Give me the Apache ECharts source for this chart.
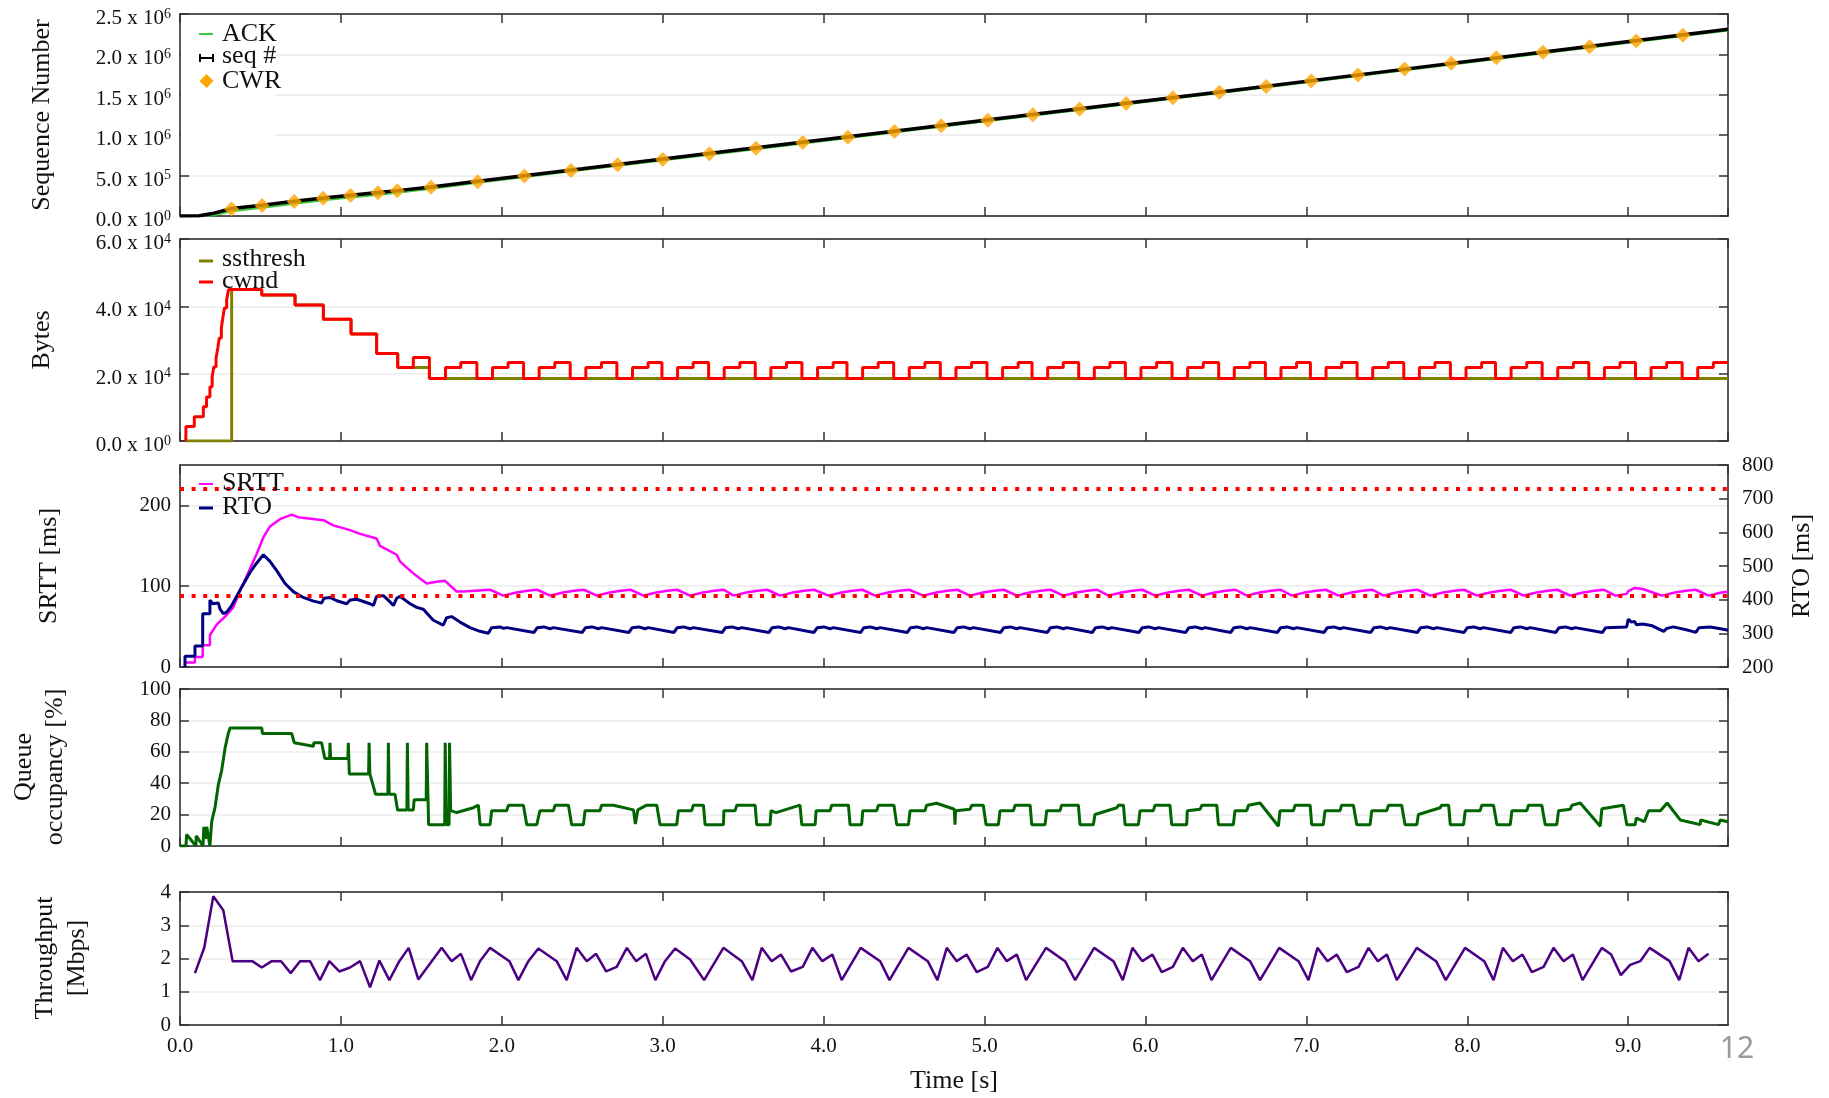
<!DOCTYPE html>
<html><head><meta charset="utf-8">
<script src="https://cdn.jsdelivr.net/npm/echarts@6/dist/echarts.min.js"></script>
<style>html,body{margin:0;padding:0;background:#fff}#c{width:1829px;height:1098px}</style>
</head><body><div id="c"></div>
<script>
// ---------------- DATA ----------------
const timeRange = [0, 9.62];

// Panel 1: sequence numbers
const seqT = [0, 0.12, 0.2, 0.32, 0.51, 0.71, 0.89, 1.06, 1.23, 1.35, 1.56, 1.85, 2.5, 3.5, 4.5, 5.5, 6.5, 7.5, 8.5, 9.62];
const seqV = [0, 2000, 30000, 92000, 132000, 182000, 224000, 257000, 290000, 314000, 360000, 430000, 585000, 825000, 1065000, 1305000, 1545000, 1790000, 2035000, 2310000];
const ackT = [0.1, 0.2, 0.32, 0.51, 0.71, 0.89, 1.06, 1.23, 1.35, 1.56, 1.85, 2.5, 3.5, 4.5, 5.5, 6.5, 7.5, 8.5, 9.62];
const ackV = [0, 6000, 58000, 102000, 152000, 194000, 229000, 264000, 289000, 337000, 410000, 568000, 809000, 1050000, 1290000, 1531000, 1776000, 2021000, 2296000];
const cwrT = [0.32, 0.51, 0.71, 0.89, 1.06, 1.23, 1.35, 1.56, 1.85, 2.14, 2.43, 2.72, 3.00, 3.29, 3.58, 3.87, 4.15, 4.44, 4.73, 5.02, 5.30, 5.59, 5.88, 6.17, 6.46, 6.75, 7.03, 7.32, 7.61, 7.90, 8.18, 8.47, 8.76, 9.05, 9.34];
const cwrV = [88000, 130000, 180000, 221000, 254000, 287000, 311000, 357000, 425000, 494000, 563000, 633000, 700000, 770000, 839000, 909000, 976000, 1046000, 1116000, 1186000, 1253000, 1323000, 1393000, 1463000, 1532000, 1602000, 1671000, 1745000, 1819000, 1890000, 1959000, 2026000, 2095000, 2166000, 2236000];

// Panel 2: window sizes [time, bytes] (value holds until next time)
const ssthreshSteps = [[0.036,0],[0.321,45000],[0.508,43400],[0.715,40400],[0.891,36200],[1.063,31800],[1.222,26000],[1.353,21800],[1.55,18600],[9.62,18600]];
const cwndSteps = [[0.036,0],[0.037,4300],[0.089,7200],[0.145,10200],[0.165,13100],[0.186,16100],[0.2,19100],[0.21,22000],[0.224,24600],[0.235,27600],[0.244,30600],[0.257,33600],[0.266,36500],[0.276,39500],[0.29,42000],[0.302,45000],[0.508,43400],[0.715,40400],[0.891,36200],[1.063,31800],[1.222,26000],[1.353,21800],[1.45,24800],[1.55,18600],[1.65,21800],[1.745,23300],
[1.845,18600],[1.942,21800],[2.039,23300],[2.135,18600],[2.232,21800],[2.329,23300],[2.425,18600],[2.522,21800],[2.619,23300],
[2.715,18600],[2.812,21800],[2.909,23300],[2.995,18600],[3.092,21800],[3.189,23300],[3.285,18600],[3.382,21800],[3.479,23300],
[3.575,18600],[3.672,21800],[3.769,23300],[3.865,18600],[3.962,21800],[4.059,23300],[4.145,18600],[4.242,21800],[4.339,23300],
[4.435,18600],[4.532,21800],[4.629,23300],[4.725,18600],[4.822,21800],[4.919,23300],[5.015,18600],[5.112,21800],[5.209,23300],
[5.295,18600],[5.392,21800],[5.489,23300],[5.585,18600],[5.682,21800],[5.779,23300],[5.875,18600],[5.972,21800],[6.069,23300],
[6.165,18600],[6.262,21800],[6.359,23300],[6.455,18600],[6.552,21800],[6.649,23300],[6.745,18600],[6.842,21800],[6.939,23300],
[7.025,18600],[7.122,21800],[7.219,23300],[7.315,18600],[7.412,21800],[7.509,23300],[7.605,18600],[7.702,21800],[7.799,23300],
[7.895,18600],[7.992,21800],[8.089,23300],[8.175,18600],[8.272,21800],[8.369,23300],[8.465,18600],[8.562,21800],[8.659,23300],
[8.755,18600],[8.852,21800],[8.949,23300],[9.045,18600],[9.142,21800],[9.239,23300],[9.335,18600],[9.432,21800],[9.529,23300],[9.62,23300]];

// Panel 3: SRTT [ms] (left axis), RTO [ms] (right axis), reference levels
const srttPts = [[0.03,5.5],[0.093,5.5],[0.093,12.3],[0.141,12.3],[0.141,26.9],[0.186,26.9],[0.186,39.6],[0.228,52.4],[0.28,62.4],[0.331,73.8],[0.383,98.8],[0.435,121.6],[0.476,139.8],[0.518,160.3],[0.559,174],[0.621,183],[0.694,188.5],[0.735,185.4],[0.891,181.7],[0.953,175.3],[1.057,169.4],[1.119,164.8],[1.222,159],[1.243,149.8],[1.347,138.9],[1.367,130.7],[1.409,123],[1.471,112.5],[1.533,103.4],[1.595,105.6],[1.647,106.6],[1.719,93.4],[1.761,93.4],[1.927,95.6],
[2.01,88.3],[2.09,92.2],[2.16,94.5],[2.22,95.6],[2.30,88.3],[2.38,92.2],[2.45,94.5],[2.51,95.6],[2.59,88.3],[2.67,92.2],[2.74,94.5],[2.80,95.6],
[2.88,88.3],[2.96,92.2],[3.03,94.5],[3.09,95.6],[3.17,88.3],[3.25,92.2],[3.32,94.5],[3.38,95.6],[3.44,88.3],[3.52,92.2],[3.59,94.5],[3.65,95.6],
[3.73,88.3],[3.81,92.2],[3.88,94.5],[3.94,95.6],[4.03,88.3],[4.11,92.2],[4.18,94.5],[4.24,95.6],[4.32,88.3],[4.40,92.2],[4.47,94.5],[4.53,95.6],
[4.62,88.3],[4.70,92.2],[4.77,94.5],[4.83,95.6],[4.91,88.3],[4.99,92.2],[5.06,94.5],[5.12,95.6],[5.20,88.3],[5.28,92.2],[5.35,94.5],[5.41,95.6],
[5.49,88.3],[5.57,92.2],[5.64,94.5],[5.70,95.6],[5.77,88.3],[5.85,92.2],[5.92,94.5],[5.98,95.6],[6.06,88.3],[6.14,92.2],[6.21,94.5],[6.27,95.6],
[6.35,88.3],[6.43,92.2],[6.50,94.5],[6.56,95.6],[6.63,88.3],[6.71,92.2],[6.78,94.5],[6.84,95.6],[6.91,88.3],[6.99,92.2],[7.06,94.5],[7.12,95.6],
[7.20,88.3],[7.28,92.2],[7.35,94.5],[7.41,95.6],[7.48,88.3],[7.56,92.2],[7.63,94.5],[7.69,95.6],[7.77,88.3],[7.85,92.2],[7.92,94.5],[7.98,95.6],
[8.06,88.3],[8.14,92.2],[8.21,94.5],[8.27,95.6],[8.35,88.3],[8.43,92.2],[8.50,94.5],[8.56,95.6],[8.64,88.3],[8.72,92.2],[8.79,94.5],[8.85,95.6],
[8.92,88.3],[8.99,90.5],[9.00,94.0],[9.04,97.9],[9.09,96.5],[9.21,88.3],[9.29,92.2],[9.36,94.5],[9.42,95.6],[9.50,88.3],[9.58,92.2],[9.62,93.0]];
const rtoPts = [[0.031,200],[0.031,231.7],[0.093,231.7],[0.093,262.3],[0.141,262.3],[0.141,358.5],[0.186,358.5],[0.186,398.9],[0.203,388],[0.238,390.2],[0.249,371.6],[0.269,358.5],[0.29,362.8],[0.321,382.5],[0.352,409.8],[0.383,437.2],[0.435,480.9],[0.476,508.2],[0.518,533.3],[0.559,513.7],[0.601,486.3],[0.653,448.1],[0.704,424],[0.766,406.6],[0.829,395.6],[0.88,390.2],[0.895,404.4],[0.932,406.6],[0.974,396.7],[1.036,388],[1.057,398.9],[1.098,401.1],[1.181,388],[1.202,382.5],[1.222,409.8],[1.264,412],[1.305,393.4],[1.326,382.5],[1.347,404.4],[1.367,409.8],[1.43,388],[1.471,377],[1.512,371.6],[1.574,338.8],[1.636,324.6],[1.657,346.4],[1.688,349.7],[1.74,333.3],[1.802,316.9],[1.864,306],[1.916,300.5],
[1.937,316.9],[1.989,319.1],[2.01,314.8],[2.03,316.9],
[2.20,302.7],[2.22,316.9],[2.26,319.1],[2.30,313.7],[2.32,316.9],[2.50,302.7],[2.52,316.9],[2.56,319.1],[2.60,313.7],[2.62,316.9],
[2.79,302.7],[2.81,316.9],[2.85,319.1],[2.89,313.7],[2.91,316.9],[3.07,302.7],[3.09,316.9],[3.13,319.1],[3.17,313.7],[3.19,316.9],
[3.37,302.7],[3.39,316.9],[3.43,319.1],[3.47,313.7],[3.49,316.9],[3.66,302.7],[3.68,316.9],[3.72,319.1],[3.76,313.7],[3.78,316.9],
[3.94,302.7],[3.96,316.9],[4.00,319.1],[4.04,313.7],[4.06,316.9],[4.23,302.7],[4.25,316.9],[4.29,319.1],[4.33,313.7],[4.35,316.9],
[4.52,302.7],[4.54,316.9],[4.58,319.1],[4.62,313.7],[4.64,316.9],[4.81,302.7],[4.83,316.9],[4.87,319.1],[4.91,313.7],[4.93,316.9],
[5.10,302.7],[5.12,316.9],[5.16,319.1],[5.20,313.7],[5.22,316.9],[5.39,302.7],[5.41,316.9],[5.45,319.1],[5.49,313.7],[5.51,316.9],
[5.67,302.7],[5.69,316.9],[5.73,319.1],[5.77,313.7],[5.79,316.9],[5.96,302.7],[5.98,316.9],[6.02,319.1],[6.06,313.7],[6.08,316.9],
[6.25,302.7],[6.27,316.9],[6.31,319.1],[6.35,313.7],[6.37,316.9],[6.53,302.7],[6.55,316.9],[6.59,319.1],[6.63,313.7],[6.65,316.9],
[6.82,302.7],[6.84,316.9],[6.88,319.1],[6.92,313.7],[6.94,316.9],[7.11,302.7],[7.13,316.9],[7.17,319.1],[7.21,313.7],[7.23,316.9],
[7.40,302.7],[7.42,316.9],[7.46,319.1],[7.50,313.7],[7.52,316.9],[7.69,302.7],[7.71,316.9],[7.75,319.1],[7.79,313.7],[7.81,316.9],
[7.98,302.7],[8.00,316.9],[8.04,319.1],[8.08,313.7],[8.10,316.9],[8.27,302.7],[8.29,316.9],[8.33,319.1],[8.37,313.7],[8.39,316.9],
[8.55,302.7],[8.57,316.9],[8.61,319.1],[8.65,313.7],[8.67,316.9],
[8.84,302.7],[8.86,316.9],[8.99,319.1],[9.0,342],[9.02,333.3],[9.04,335.5],[9.05,325.7],[9.09,327.9],[9.15,322.4],[9.22,306],[9.24,314.8],[9.28,319.1],[9.38,308.2],[9.42,302.7],[9.44,316.9],[9.51,319.1],[9.6,311.5],[9.62,309.3]];
const srttRefLevels = [220.9, 88.3];

// Panel 4: queue occupancy [%]
const queuePts = [[0,0],[0.037,0],[0.041,7.3],[0.099,0],[0.101,6.5],[0.143,0],[0.148,12.2],[0.158,4.5],[0.166,12.2],[0.186,0],[0.197,15.5],[0.218,24.8],[0.238,38.9],[0.259,48.2],[0.28,62.3],[0.3,71.7],[0.311,75.2],[0.508,75.2],[0.512,71.7],[0.694,71.7],[0.71,65.8],[0.829,63.5],[0.832,65.8],[0.88,65.8],[0.9,55.7],[0.93,55.7],[0.932,65.8],[0.936,55.7],[1.043,55.7],[1.046,65.8],[1.052,45.9],[1.172,45.9],[1.175,65.8],[1.18,45.9],[1.19,45.9],[1.215,33.0],[1.292,33.0],[1.295,65.8],[1.3,33.0],[1.336,33.0],[1.352,23.0],[1.41,23.0],[1.413,65.8],[1.418,23.0],[1.45,23.0],[1.455,29.5],[1.53,29.5],[1.533,65.8],[1.545,13.6],[1.645,13.6],[1.648,65.8],[1.655,13.6],[1.672,13.6],[1.675,65.8],[1.682,22.5],[1.72,21.3],[1.823,24.4],[1.854,26],
[1.865,13.6],[1.927,13.6],[1.937,22.5],[2.03,22.5],[2.041,26],[2.134,26],
[2.155,13.6],[2.217,13.6],[2.237,22.5],[2.32,22.5],[2.331,26],[2.414,26],
[2.434,13.6],[2.507,13.6],[2.517,22.5],[2.61,22.5],[2.62,26],[2.693,26],[2.818,23],[2.83,14],[2.845,23],[2.9,26],[2.963,26],
[2.983,13.6],[3.087,13.6],[3.097,22.5],[3.18,22.5],[3.19,26],[3.253,26],
[3.263,13.6],[3.377,13.6],[3.38,22.5],[3.45,22.5],[3.46,26],[3.574,26],
[3.584,13.6],[3.667,13.6],[3.673,22.5],[3.704,21.3],[3.853,26],
[3.864,13.6],[3.947,13.6],[3.953,22.5],[4.04,22.5],[4.05,26],[4.154,26],
[4.164,13.6],[4.236,13.6],[4.243,22.5],[4.33,22.5],[4.34,26],[4.437,26],
[4.454,13.6],[4.527,13.6],[4.537,22.5],[4.63,22.5],[4.64,26],[4.702,27.2],[4.812,23.4],[4.816,13.6],[4.82,22.5],[4.91,23.4],[4.92,26],[4.992,26],
[5.009,13.6],[5.086,13.6],[5.096,22.5],[5.179,22.5],[5.19,26],[5.283,26],
[5.293,13.6],[5.376,13.6],[5.386,22.5],[5.469,22.5],[5.479,26],[5.583,26],
[5.593,13.6],[5.676,13.6],[5.686,20.1],[5.822,24.4],[5.832,26],[5.863,26],
[5.873,13.6],[5.956,13.6],[5.966,22.5],[6.049,22.5],[6.059,26],[6.152,26],
[6.163,13.6],[6.256,13.6],[6.26,22.5],[6.34,23.4],[6.35,26],[6.443,26],
[6.453,13.6],[6.546,13.6],[6.556,22.5],[6.629,22.5],[6.64,26],[6.712,27.4],[6.826,12.6],
[6.836,22.5],[6.919,22.5],[6.93,26],[7.023,26],
[7.033,13.6],[7.105,13.6],[7.116,22.5],[7.209,22.5],[7.219,26],[7.292,26],
[7.313,13.6],[7.396,13.6],[7.406,22.5],[7.499,22.5],[7.51,26],[7.592,26],
[7.613,13.6],[7.686,13.6],[7.696,20.1],[7.832,24.4],[7.84,26],[7.884,26],
[7.894,13.6],[7.977,13.6],[7.987,22.5],[8.08,22.5],[8.09,26],[8.163,26],
[8.184,13.6],[8.267,13.6],[8.277,22.5],[8.37,22.5],[8.38,26],[8.463,26],
[8.484,13.6],[8.556,13.6],[8.567,22.5],[8.64,23.4],[8.65,26],[8.702,27.4],[8.826,12.6],
[8.836,23.7],[8.97,26],
[8.991,13.6],[9.043,13.6],[9.05,17.8],[9.1,15.5],[9.126,22.5],[9.2,22.5],[9.242,27.4],[9.323,16.6],[9.447,13.6],[9.45,16.6],[9.561,13.6],[9.571,16.6],[9.62,15.5]];

// Panel 5: throughput [Mbps]
const thrPts = [[0.093,1.56],[0.151,2.33],[0.207,3.87],[0.269,3.45],[0.327,1.92],[0.389,1.92],[0.449,1.92],[0.508,1.73],[0.570,1.92],[0.628,1.92],[0.688,1.56],[0.746,1.92],[0.808,1.92],[0.870,1.35],[0.928,1.92],[0.990,1.61],[1.057,1.73],[1.119,1.92],[1.181,1.13],[1.239,1.94],[1.301,1.35],[1.363,1.92],[1.421,2.32],[1.481,1.37],[1.626,2.32],[1.688,1.92],[1.746,2.14],[1.809,1.35],[1.864,1.92],[1.927,2.32],[2.047,1.92],[2.103,1.35],[2.165,1.92],[2.227,2.30],[2.341,1.92],[2.403,1.35],[2.465,2.32],[2.528,1.92],[2.586,2.14],[2.648,1.61],[2.714,1.75],[2.777,2.32],[2.834,1.92],[2.896,2.14],[2.954,1.35],[3.014,1.92],[3.077,2.30],[3.17,1.97],[3.257,1.35],[3.377,2.32],[3.491,1.92],[3.557,1.35],[3.615,2.32],[3.677,1.92],[3.735,2.12],[3.797,1.61],[3.870,1.75],[3.930,2.32],[3.992,1.92],[4.054,2.12],[4.112,1.35],[4.230,2.32],[4.351,1.92],[4.409,1.35],[4.527,2.32],[4.647,1.92],[4.707,1.35],[4.765,2.32],[4.827,1.92],[4.889,2.12],[4.951,1.59],[5.020,1.75],[5.080,2.32],[5.138,1.92],[5.200,2.12],[5.258,1.35],[5.382,2.32],[5.500,1.92],[5.563,1.35],[5.681,2.32],[5.801,1.92],[5.859,1.35],[5.919,2.32],[5.981,1.92],[6.043,2.12],[6.101,1.59],[6.170,1.75],[6.232,2.32],[6.294,1.92],[6.350,2.12],[6.41,1.35],[6.530,2.32],[6.650,1.92],[6.712,1.35],[6.831,2.32],[6.951,1.92],[7.013,1.35],[7.069,2.32],[7.131,1.92],[7.189,2.12],[7.251,1.59],[7.324,1.75],[7.386,2.32],[7.444,1.92],[7.500,2.12],[7.562,1.35],[7.686,2.32],[7.806,1.92],[7.866,1.35],[7.986,2.32],[8.105,1.92],[8.163,1.35],[8.221,2.32],[8.283,1.92],[8.343,2.12],[8.401,1.59],[8.474,1.75],[8.536,2.32],[8.598,1.92],[8.656,2.12],[8.716,1.35],[8.836,2.32],[8.894,2.12],[8.954,1.50],[9.012,1.81],[9.075,1.92],[9.133,2.32],[9.257,1.92],[9.317,1.35],[9.375,2.32],[9.437,1.92],[9.499,2.14]];

// Axis scales (value ranges / tick steps)
const yScales = [
  {min:0, max:2500000, interval:500000},
  {min:0, max:60000, interval:20000},
  {min:0, max:250, interval:100},
  {min:0, max:100, interval:20},
  {min:0, max:4, interval:1}
];
const rtoScale = {min:200, max:800, interval:100};
const yNames = ['Sequence Number', 'Bytes', 'SRTT [ms]', 'Queue\noccupancy [%]', 'Throughput\n[Mbps]'];

// ---------------- LAYOUT / STYLE ----------------
const FONT = '"Liberation Serif", "DejaVu Serif", serif';
const TXT = '#111';
const AX = '#222';
const LEFT = 180, WIDTH = 1548;
const GRIDS = [{top:14,h:202},{top:239,h:202},{top:465,h:202},{top:689,h:157},{top:892,h:133}];
const TICKFS = 21;

function zip(a, b) { return a.map((v, i) => [v, b[i]]); }
function sciFmt(v) {
  if (v === 0) return '{m|0.0 x 10}{s|0}';
  const e = Math.floor(Math.log10(v) + 1e-9);
  const m = v / Math.pow(10, e);
  return '{m|' + m.toFixed(1) + ' x 10}{s|' + e + '}';
}
const richSci = {
  m: {fontSize: TICKFS, fontFamily: FONT, color: TXT, verticalAlign: 'bottom'},
  s: {fontSize: 14, fontFamily: FONT, color: TXT, lineHeight: 30, verticalAlign: 'middle'}
};
const tickStyle = {show: true, inside: true, length: 9, lineStyle: {color: '#333', width: 1.5}};
const lineAx = {show: true, onZero: false, lineStyle: {color: AX, width: 1.5}};

const grid = GRIDS.map(g => ({left: LEFT, width: WIDTH, top: g.top, height: g.h, containLabel: false}));

const xAxis = [];
GRIDS.forEach((g, i) => {
  xAxis.push({type: 'value', gridIndex: i, min: timeRange[0], max: timeRange[1], interval: 1, position: 'bottom',
    axisLine: lineAx, axisTick: tickStyle, splitLine: {show: false},
    axisLabel: {show: i === 4, margin: 11, fontSize: TICKFS, fontFamily: FONT, color: TXT, showMaxLabel: false,
      formatter: v => v.toFixed(1)}});
  xAxis.push({type: 'value', gridIndex: i, min: timeRange[0], max: timeRange[1], interval: 1, position: 'top',
    axisLine: lineAx, axisTick: tickStyle, splitLine: {show: false}, axisLabel: {show: false}});
});

const yAxis = [];
GRIDS.forEach((g, i) => {
  const sc = yScales[i];
  const lab = {show: true, margin: 9, fontSize: TICKFS, fontFamily: FONT, color: TXT, showMaxLabel: i !== 2};
  if (i < 2) { lab.formatter = sciFmt; lab.rich = richSci; }
  yAxis.push({type: 'value', gridIndex: i, min: sc.min, max: sc.max, interval: sc.interval, position: 'left',
    axisLine: lineAx, axisTick: tickStyle, axisLabel: lab,
    splitLine: {show: true, lineStyle: {color: '#ebebeb', width: 1.5}}});
  if (i === 2) {
    yAxis.push({type: 'value', gridIndex: i, min: rtoScale.min, max: rtoScale.max, interval: rtoScale.interval, position: 'right',
      axisLine: lineAx, axisTick: tickStyle, splitLine: {show: false},
      axisLabel: {show: true, margin: 14, fontSize: TICKFS, fontFamily: FONT, color: TXT}});
  } else {
    yAxis.push({type: 'value', gridIndex: i, min: sc.min, max: sc.max, interval: sc.interval, position: 'right',
      axisLine: lineAx, axisTick: tickStyle, splitLine: {show: false}, axisLabel: {show: false}});
  }
});

function lineSeries(name, xi, yi, data, color, width, extra) {
  return Object.assign({type: 'line', name, xAxisIndex: xi, yAxisIndex: yi, data, showSymbol: false, symbol: 'none',
    lineStyle: {color, width}, itemStyle: {color}, silent: true, animation: false}, extra || {});
}

const series = [
  lineSeries('ACK', 0, 0, zip(ackT, ackV), '#3cc83c', 2, {z: 2}),
  lineSeries('seq #', 0, 0, zip(seqT, seqV), '#000000', 3.5, {z: 3}),
  {type: 'scatter', name: 'CWR', xAxisIndex: 0, yAxisIndex: 0, data: zip(cwrT, cwrV), symbol: 'diamond', symbolSize: 15,
    itemStyle: {color: '#ffa500'}, z: 4, silent: true, animation: false},
  lineSeries('ssthresh', 2, 2, ssthreshSteps, '#808000', 3, {step: 'end', z: 2}),
  lineSeries('cwnd', 2, 2, cwndSteps, '#ff0000', 3, {step: 'end', z: 3}),
  lineSeries('SRTT', 4, 4, srttPts, '#ff00ff', 2.5, {z: 3,
    markLine: {silent: true, symbol: 'none', label: {show: false}, animation: false,
      lineStyle: {color: '#ff0000', type: [4, 7.6], width: 4, cap: 'butt'},
      data: srttRefLevels.map(v => ({yAxis: v}))}}),
  lineSeries('RTO', 4, 5, rtoPts, '#000080', 3, {z: 3}),
  lineSeries('Queue', 6, 6, queuePts, '#006400', 3, {z: 3}),
  lineSeries('Throughput', 8, 8, thrPts, '#4b0082', 2.5, {z: 3})
];

// ---------------- GRAPHIC: legends, axis names, page number ----------------
function txt(text, x, y, opts) {
  opts = opts || {};
  return {type: 'text', x, y, rotation: opts.rot || 0, z: 100, silent: true,
    style: {text, font: (opts.size || 26) + 'px ' + FONT, fill: opts.color || TXT,
      align: opts.align || 'center', textAlign: opts.align || 'center',
      verticalAlign: 'middle', textVerticalAlign: 'middle', lineHeight: opts.lh || undefined}};
}
function seg(x1, y1, x2, y2, color, w) {
  return {type: 'line', z: 100, silent: true, shape: {x1, y1, x2, y2}, style: {stroke: color, lineWidth: w}};
}
const graphic = [
  // mask gridlines behind the first legend box
  {type: 'rect', z: 1, silent: true, shape: {x: 181, y: 15, width: 94, height: 123}, style: {fill: '#ffffff'}},
  // Panel 1 legend
  seg(199, 34, 213, 34, '#3cc83c', 2), txt('ACK', 222, 34, {align: 'left'}),
  seg(200, 58, 213, 58, '#000', 2), seg(200, 54, 200, 62, '#000', 2), seg(213, 54, 213, 62, '#000', 2),
  txt('seq #', 222, 56, {align: 'left'}),
  {type: 'polygon', z: 100, silent: true, shape: {points: [[206.5, 74], [213.5, 81], [206.5, 88], [199.5, 81]]}, style: {fill: '#ffa500'}},
  txt('CWR', 222, 81, {align: 'left'}),
  // Panel 2 legend
  seg(199, 261, 213, 261, '#808000', 3), txt('ssthresh', 222, 259, {align: 'left'}),
  seg(199, 282, 213, 282, '#ff0000', 3), txt('cwnd', 222, 281, {align: 'left'}),
  // Panel 3 legend
  seg(199, 484, 213, 484, '#ff00ff', 2), txt('SRTT', 222, 483, {align: 'left'}),
  seg(199, 508, 213, 508, '#000080', 3), txt('RTO', 222, 507, {align: 'left'}),
  // axis names
  txt(yNames[0], 42, 115, {rot: Math.PI / 2}),
  txt(yNames[1], 42, 340, {rot: Math.PI / 2}),
  txt(yNames[2], 49, 566, {rot: Math.PI / 2}),
  txt(yNames[3], 40, 767, {rot: Math.PI / 2, lh: 31}),
  txt(yNames[4], 61, 958, {rot: Math.PI / 2, lh: 32}),
  txt('RTO [ms]', 1802, 566, {rot: Math.PI / 2}),
  txt('Time [s]', 954, 1081),
  {type: 'text', x: 1737, y: 1049, z: 100, silent: true,
    style: {text: '12', font: '30px "Noto Sans", "DejaVu Sans", sans-serif', fill: '#999999',
      align: 'center', textAlign: 'center', verticalAlign: 'middle', textVerticalAlign: 'middle'}}
];

const chart = echarts.init(document.getElementById('c'), null, {renderer: 'canvas'});
chart.setOption({
  animation: false,
  backgroundColor: '#ffffff',
  grid, xAxis, yAxis, series, graphic
});
</script></body></html>
